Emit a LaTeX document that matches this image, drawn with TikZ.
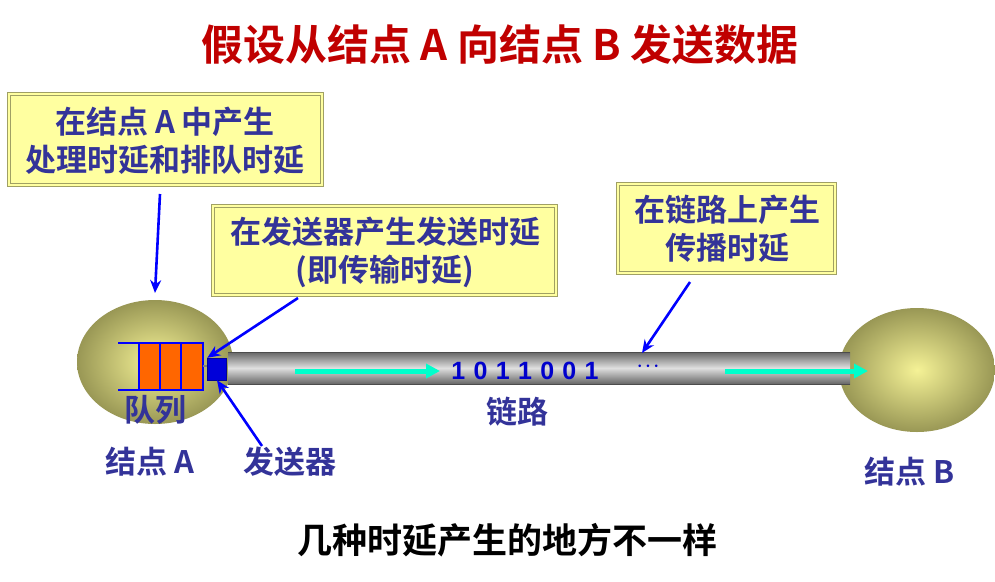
\documentclass[tikz,border=0pt]{standalone}
\usepackage{fontspec}
\setmainfont{Liberation Sans}
\newfontfamily\cjk{Noto Sans CJK SC}[BoldFont={Noto Sans CJK SC Bold}]
\usetikzlibrary{arrows.meta}
\definecolor{tblue}{RGB}{51,51,153}
\definecolor{tred}{RGB}{192,0,0}
\definecolor{byellow}{RGB}{255,255,160}
\definecolor{bolive}{RGB}{160,160,100}
\definecolor{ball}{RGB}{180,178,100}
\definecolor{ballhi}{RGB}{245,242,150}
\definecolor{tcyan}{RGB}{0,255,204}
\definecolor{qorange}{RGB}{255,102,0}
\tikzset{
  x=1pt,y=-1pt,
  callout/.style={draw=bolive,line width=1.2pt,fill=byellow,double=byellow,double distance=1.5pt},
  ctext/.style={text=tblue,font=\cjk\bfseries\fontsize{31}{38}\selectfont,inner sep=0pt},
  lbl/.style={text=tblue,font=\cjk\bfseries\fontsize{31}{36}\selectfont,inner sep=0pt},
  pointer/.style={draw=blue,line width=2.6pt,-{Stealth[length=13pt,width=11pt]}},
  flow/.style={draw=tcyan,line width=5pt,-{Triangle[length=14pt,width=14pt]}}
}
\begin{document}
\begin{tikzpicture}
\useasboundingbox (0,0) rectangle (995,581);
\fill[white] (0,0) rectangle (995,581);
\node[text=tred,font=\cjk\bfseries\fontsize{42}{46}\selectfont] (title) at (500,45) {假设从结点 A 向结点 B 发送数据};
% nodes
\shade[inner color=ballhi,outer color=ball!85!black] (155,362) ellipse [x radius=78,y radius=62];
\coordinate (nA) at (155,362);
\shade[inner color=ballhi,outer color=ball!85!black] (917,370) ellipse [x radius=78,y radius=62];
\coordinate (nB) at (917,370);
% link tube
\shade[top color=gray!80!black,bottom color=gray!80!black,middle color=gray!25] (228,352) rectangle (850,384);
\draw[gray!60!black,line width=0.6pt] (228,352) -- (850,352) (228,384) -- (850,384);
% flows
\coordinate (f1s) at (295,371); \coordinate (f1e) at (440,371);
\coordinate (f2s) at (725,371); \coordinate (f2e) at (868,371);
\draw[flow] (f1s) -- (f1e);
\draw[flow] (f2s) -- (f2e);
\node[text=blue!80!black,font=\bfseries\fontsize{25}{28}\selectfont] (bits) at (525,371) {1\,\,0\,\,1\,\,1\,\,0\,\,0\,\,1};
\node[text=blue!80!black,font=\bfseries\fontsize{25}{28}\selectfont] (dots) at (648,367) {$\cdot\!\cdot\!\cdot$};
% queue
\fill[qorange] (139,343) rectangle (202,390);
\draw[blue,line width=2pt] (118,343) -- (203,343) -- (203,390) -- (118,390);
\draw[blue,line width=1.2pt] (139,343) -- (139,390) (160,343) -- (160,390) (181,343) -- (181,390);
\draw[gray,line width=1.5pt] (203,366) -- (208,366);
\node[fill=blue!85!black,draw=blue!60!black,minimum width=19pt,minimum height=22pt,inner sep=0pt] (snd) at (217,369) {};
% labels
\node[lbl] (q) at (155,410) {队列};
\node[lbl] (la) at (150,462) {结点 A};
\node[lbl] (ls) at (290,462) {发送器};
\node[lbl] (ll) at (517,412) {链路};
\node[lbl] (lb) at (910,472) {结点 B};
% callouts
\draw[callout] (9,94) rectangle (322,185);
\node[ctext,align=center] (c1) at (165,141) {在结点 A 中产生\\处理时延和排队时延};
\draw[callout] (213,206) rectangle (556,295);
\node[ctext,align=center] (c2) at (385,252) {在发送器产生发送时延\\(即传输时延)};
\draw[callout] (618,184) rectangle (835,273);
\node[ctext,align=center] (c3) at (727,229) {在链路上产生\\传播时延};
% pointers
\coordinate (p1s) at (160,194); \coordinate (p1e) at (155,293);
\draw[pointer] (p1s) -- (p1e);
\coordinate (p2s) at (298,298);
\draw[pointer] (p2s) -- (snd.north west);
\coordinate (p3s) at (262,446);
\draw[pointer] (p3s) -- (snd.south);
\coordinate (p4s) at (690,282); \coordinate (p4e) at (642,353);
\draw[pointer] (p4s) -- (p4e);
\node[font=\cjk\bfseries\fontsize{35}{40}\selectfont] (bottom) at (507,540) {几种时延产生的地方不一样};
\end{tikzpicture}
\end{document}
